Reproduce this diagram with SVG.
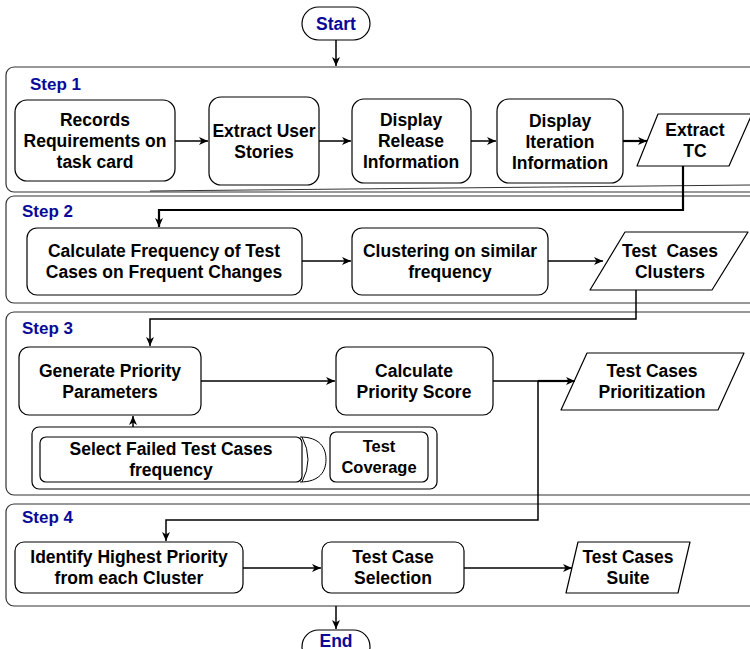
<svg xmlns="http://www.w3.org/2000/svg" width="750" height="649" viewBox="0 0 750 649">
<style>
.cont{fill:none;stroke:#333;stroke-width:1.2}
.box{fill:#fff;stroke:#000;stroke-width:1.2}
.t{font-family:"Liberation Sans",Arial,sans-serif;font-weight:bold;font-size:17.5px;fill:#000;text-anchor:middle}
.lbl{font-family:"Liberation Sans",Arial,sans-serif;font-weight:bold;font-size:17px;fill:#0a0a99}
.c{fill:none;stroke:#000;stroke-width:1.5}
.ck{fill:none;stroke:#000;stroke-width:2.2}
</style>
<defs>
<marker id="ar" markerWidth="10" markerHeight="10" refX="9" refY="5" orient="auto" markerUnits="userSpaceOnUse">
<path d="M0,1 L9,5 L0,9 L2.5,5 Z" fill="#000"/>
</marker>
</defs>
<g id="containers">
<rect class="cont" x="6" y="67" width="760" height="125" rx="8"/>
<line x1="150" y1="191" x2="750" y2="185" stroke="#333" stroke-width="1"/>
<rect class="cont" x="6" y="196" width="760" height="107" rx="8"/>
<rect class="cont" x="6" y="312" width="760" height="183" rx="8"/>
<rect class="cont" x="6" y="504" width="760" height="102" rx="8"/>
<text class="lbl" x="30" y="90">Step 1</text>
<text class="lbl" x="22" y="217">Step 2</text>
<text class="lbl" x="22" y="334">Step 3</text>
<text class="lbl" x="22" y="523">Step 4</text>
</g>
<g id="start">
<rect class="box" x="302" y="7" width="68" height="33" rx="16.5"/>
<text class="t" x="336" y="30" style="fill:#0a0a99">Start</text>
</g>
<g id="records">
<rect class="box" x="15" y="100" width="160" height="81" rx="12"/>
<text class="t" x="95" y="126">Records</text>
<text class="t" x="95" y="147">Requirements on</text>
<text class="t" x="95" y="168">task card</text>
</g>
<g id="extract-user">
<rect class="box" x="209" y="97" width="110" height="88" rx="12"/>
<text class="t" x="264" y="137">Extract User</text>
<text class="t" x="264" y="158">Stories</text>
</g>
<g id="display-release">
<rect class="box" x="352" y="99" width="119" height="84" rx="12"/>
<text class="t" x="411" y="126">Display</text>
<text class="t" x="411" y="147">Release</text>
<text class="t" x="411" y="168">Information</text>
</g>
<g id="display-iteration">
<rect class="box" x="497" y="99" width="126" height="84" rx="12"/>
<text class="t" x="560" y="127">Display</text>
<text class="t" x="560" y="148">Iteration</text>
<text class="t" x="560" y="169">Information</text>
</g>
<g id="extract-tc">
<path class="box" d="M658,114 L752,114 L729,166 L637,166 Z" stroke-linejoin="round"/>
<text class="t" x="695" y="136">Extract</text>
<text class="t" x="695" y="157">TC</text>
</g>
<g id="calc-frequency">
<rect class="box" x="27" y="228" width="275" height="67" rx="10"/>
<text class="t" x="164" y="257">Calculate Frequency of Test</text>
<text class="t" x="164" y="278">Cases on Frequent Changes</text>
</g>
<g id="clustering">
<rect class="box" x="352" y="228" width="196" height="67" rx="10"/>
<text class="t" x="450" y="257">Clustering on similar</text>
<text class="t" x="450" y="278">frequency</text>
</g>
<g id="tc-clusters">
<path class="box" d="M625,232 L748,232 L712,290 L590,290 Z" stroke-linejoin="round"/>
<text class="t" x="670" y="257" xml:space="preserve">Test  Cases</text>
<text class="t" x="670" y="278">Clusters</text>
</g>
<g id="generate-priority">
<rect class="box" x="19" y="347" width="182" height="68" rx="10"/>
<text class="t" x="110" y="377">Generate Priority</text>
<text class="t" x="110" y="398">Parameters</text>
</g>
<g id="calc-score">
<rect class="box" x="336" y="347" width="157" height="68" rx="10"/>
<text class="t" x="414" y="377">Calculate</text>
<text class="t" x="414" y="398">Priority Score</text>
</g>
<g id="tc-prioritization">
<path class="box" d="M587,353 L744,353 L718,410 L561,410 Z" stroke-linejoin="round"/>
<text class="t" x="652" y="377">Test Cases</text>
<text class="t" x="652" y="398">Prioritization</text>
</g>
<g id="parameters-group">
<rect class="box" x="32" y="427" width="405" height="62" rx="7"/>
</g>
<g id="select-failed">
<path d="M300,437 C320,437 326,448 326,459.5 C326,471 320,482 300,482" fill="#fff" stroke="#000" stroke-width="1"/>
<path d="M302,437 Q314,459.5 302,482" fill="none" stroke="#000" stroke-width="1"/>
<rect class="box" x="40" y="437" width="262" height="45" rx="6"/>
<text class="t" x="171" y="455">Select Failed Test Cases</text>
<text class="t" x="171" y="476">frequency</text>
</g>
<g id="test-coverage">
<rect class="box" x="330" y="432" width="98" height="50" rx="6"/>
<text class="t" x="379" y="452" style="font-size:16.5px">Test</text>
<text class="t" x="379" y="473" style="font-size:16.5px">Coverage</text>
</g>
<g id="identify-highest">
<rect class="box" x="15" y="542" width="228" height="51" rx="9"/>
<text class="t" x="129" y="563">Identify Highest Priority</text>
<text class="t" x="129" y="584">from each Cluster</text>
</g>
<g id="tc-selection">
<rect class="box" x="322" y="542" width="142" height="51" rx="9"/>
<text class="t" x="393" y="563">Test Case</text>
<text class="t" x="393" y="584">Selection</text>
</g>
<g id="tc-suite">
<path class="box" d="M578,542 L690,542 L678,593 L566,593 Z" stroke-linejoin="round"/>
<text class="t" x="628" y="563">Test Cases</text>
<text class="t" x="628" y="584">Suite</text>
</g>
<g id="end">
<rect class="box" x="302" y="630" width="68" height="33" rx="16.5"/>
<text class="t" x="336" y="647" style="fill:#0a0a99">End</text>
</g>
<g id="connectors">
<path class="c" d="M336,40 L336,66" marker-end="url(#ar)"/>
<path class="c" d="M175,141 L208,141" marker-end="url(#ar)"/>
<path class="c" d="M319,141 L351,141" marker-end="url(#ar)"/>
<path class="c" d="M471,141 L496,141" marker-end="url(#ar)"/>
<path class="ck" d="M623,141 L647,141" marker-end="url(#ar)"/>
<path class="ck" d="M683,166 L683,210 L159,210 L159,227" marker-end="url(#ar)"/>
<path class="c" d="M302,261 L351,261" marker-end="url(#ar)"/>
<path class="c" d="M548,261 L603,261" marker-end="url(#ar)"/>
<path class="c" d="M636,290 L636,319 L150,319 L150,346" marker-end="url(#ar)"/>
<path class="c" d="M201,381 L335,381" marker-end="url(#ar)"/>
<path class="c" d="M493,381 L575,381" marker-end="url(#ar)"/>
<path class="ck" d="M538,381 L570,381"/>
<path class="c" d="M538,381 L538,520 L166,520 L166,541" marker-end="url(#ar)"/>
<path class="c" d="M133,427 L133,416" marker-end="url(#ar)"/>
<path class="c" d="M243,568 L321,568" marker-end="url(#ar)"/>
<path class="c" d="M464,568 L572,568" marker-end="url(#ar)"/>
<path class="c" d="M336,606 L336,629" marker-end="url(#ar)"/>
</g>
</svg>
